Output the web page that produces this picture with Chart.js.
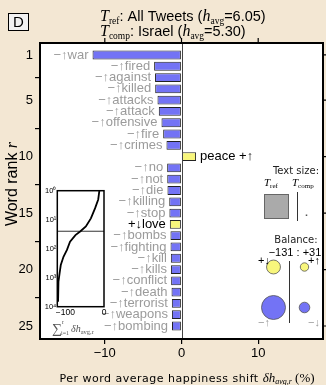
<!DOCTYPE html>
<html>
<head>
<meta charset="utf-8">
<script src="https://cdn.jsdelivr.net/npm/chart.js@4.4.0/dist/chart.umd.min.js"></script>
<style>
  html, body { margin: 0; padding: 0; background: #f3e7d3; }
  #wrap { position: relative; width: 326px; height: 385px; }
  #main { position: absolute; left: 0; top: 0; }
  #insetBox { position: absolute; left: 38px; top: 183px; width: 72px; height: 155px; }
</style>
</head>
<body>
<div id="wrap">
  <canvas id="main" width="326" height="385"></canvas>
  <div id="insetBox"><canvas id="inset" width="72" height="155"></canvas></div>
</div>
<script>
// word shift data
const words = ["war", "fired", "against", "killed", "attacks", "attack", "offensive", "fire", "crimes", "peace",
  "no", "not", "die", "killing", "stop", "love", "bombs", "fighting", "kill", "kills",
  "conflict", "death", "terrorist", "weapons", "bombing"];
const ranks = [1, 2, 3, 4, 5, 6, 7, 8, 9, 10, 11, 12, 13, 14, 15, 16, 17, 18, 19, 20, 21, 22, 23, 24, 25];
const shifts = [-11.6, -3.57, -3.45, -3.43, -3.13, -2.96, -2.61, -2.39, -1.96, 1.9,
  -1.87, -1.86, -1.83, -1.6, -1.58, -1.52, -1.44, -1.43, -1.39, -1.38,
  -1.35, -1.3, -1.26, -1.25, -1.24];
// "-up" = negative word used more, "+up" = positive word used more, "+down" = positive word used less
const kinds = ["-up", "-up", "-up", "-up", "-up", "-up", "-up", "-up", "-up", "+up",
  "-up", "-up", "-up", "-up", "-up", "+down", "-up", "-up", "-up", "-up",
  "-up", "-up", "-up", "-up", "-up"];
const yTicks = [1, 5, 10, 15, 20, 25];
const xTicks = [-10, 0, 10];

// inset: cumulative shift vs rank
const cumRanks = [1, 2, 4, 9, 17, 25, 34, 57, 110, 190, 365, 700, 1370, 4000, 6750];
const cumShift = [-12, -15, -23, -34, -47, -61, -74, -88, -96, -105, -112, -115, -118, -119, -119];
const insetYTicks = [1, 10, 100, 1000, 10000];
const insetXTicks = [-100, 0];

// summary boxes
const textSizes = [1, 0.004];          // T_ref, T_comp
const balanceTotals = [-131, 31];
const balanceParts = [-33, 12, -98, 19]; // +down, +up, -up, -down

const BLUE = "#7373f5";
const YELLOW = "#f8f67c";
const GREY = "#9b9b9b";

function rich(ctx, x, y, segs, align) {
  let w = 0;
  segs.forEach(s => { ctx.font = s.f; ctx.letterSpacing = s.ls || "0px"; w += ctx.measureText(s.t).width; });
  let cx = align === "center" ? x - w / 2 : x;
  segs.forEach(s => {
    ctx.font = s.f;
    ctx.letterSpacing = s.ls || "0px";
    ctx.fillStyle = s.c || "#000";
    ctx.fillText(s.t, cx, y + (s.dy || 0));
    cx += ctx.measureText(s.t).width;
  });
  ctx.letterSpacing = "0px";
}

const SANS = "'Liberation Sans', Arial, sans-serif";
const SERIF_I = "italic 16px 'Liberation Serif', serif";

const decor = {
  id: "decor",
  beforeDraw(chart) {
    const { ctx, chartArea: a } = chart;
    ctx.save();
    ctx.fillStyle = "#fff";
    ctx.fillRect(a.left, a.top, a.right - a.left, a.bottom - a.top);
    ctx.restore();
  },
  afterDatasetsDraw(chart) {
    const { ctx, chartArea: a } = chart;
    const xs = chart.scales.x;
    ctx.save();
    // zero line
    ctx.strokeStyle = "#444";
    ctx.lineWidth = 1;
    ctx.beginPath();
    ctx.moveTo(Math.round(xs.getPixelForValue(0)) + 0.5, a.top);
    ctx.lineTo(Math.round(xs.getPixelForValue(0)) + 0.5, a.bottom);
    ctx.stroke();
    // word labels
    const meta = chart.getDatasetMeta(0);
    ctx.textBaseline = "middle";
    ctx.font = "13px " + SANS;
    meta.data.forEach((bar, i) => {
      const k = kinds[i];
      const left = Math.min(bar.x, bar.base), right = Math.max(bar.x, bar.base);
      if (k === "+up") {
        ctx.fillStyle = "#000";
        ctx.textAlign = "left";
        ctx.fillText(words[i] + " +\u2191", right + 4, bar.y);
      } else if (k === "+down") {
        ctx.fillStyle = "#000";
        ctx.textAlign = "right";
        ctx.fillText("+\u2193" + words[i], left - 4, bar.y);
      } else {
        ctx.fillStyle = GREY;
        ctx.textAlign = "right";
        ctx.fillText("\u2212\u2191" + words[i], left - 4, bar.y);
      }
    });
    ctx.restore();
  },
  afterDraw(chart) {
    const { ctx, chartArea: a } = chart;
    const xs = chart.scales.x, ys = chart.scales.y;
    ctx.save();
    // frame
    ctx.strokeStyle = "#000";
    ctx.lineWidth = 2;
    ctx.strokeRect(a.left, a.top, a.right - a.left, a.bottom - a.top);
    // mirrored ticks on top and right
    ctx.lineWidth = 1.2;
    ctx.beginPath();
    xTicks.forEach(v => {
      const px = xs.getPixelForValue(v);
      ctx.moveTo(px, a.top); ctx.lineTo(px, a.top - 5);
    });
    yTicks.forEach(v => {
      const py = ys.getPixelForValue(v);
      ctx.moveTo(a.right, py); ctx.lineTo(a.right + 4, py);
    });
    ctx.stroke();

    // panel letter
    ctx.fillStyle = "#f2f2f2";
    ctx.fillRect(8.5, 13.5, 20, 17);
    ctx.strokeStyle = "#000";
    ctx.lineWidth = 1;
    ctx.strokeRect(8.5, 13.5, 20, 17);
    ctx.fillStyle = "#000";
    ctx.font = "15px " + SANS;
    ctx.textAlign = "center";
    ctx.textBaseline = "middle";
    ctx.fillText("D", 18.5, 22.5);

    // title
    ctx.textAlign = "left";
    ctx.textBaseline = "alphabetic";
    const tf = "14.5px " + SANS;
    const sub = "9.5px 'Liberation Serif', serif";
    rich(ctx, 100, 20.5, [
      { t: "T", f: SERIF_I }, { t: "ref", f: sub, dy: 3 }, { t: ": All Tweets (", f: tf },
      { t: "h", f: SERIF_I }, { t: "avg", f: sub, dy: 3 }, { t: "=6.05)", f: tf }
    ]);
    rich(ctx, 100, 36, [
      { t: "T", f: SERIF_I }, { t: "comp", f: sub, dy: 3 }, { t: ": Israel (", f: tf },
      { t: "h", f: SERIF_I }, { t: "avg", f: sub, dy: 3 }, { t: "=5.30)", f: tf }
    ]);

    // axis titles
    ctx.save();
    ctx.translate(17, 184);
    ctx.rotate(-Math.PI / 2);
    rich(ctx, 0, 0, [{ t: "Word rank ", f: "16px " + SANS }, { t: "r", f: "italic 16px 'Liberation Serif', serif" }], "center");
    ctx.restore();
    rich(ctx, 187, 382, [
      { t: "Per word average happiness shift ", f: "11px 'DejaVu Sans', sans-serif", ls: "0.5px" },
      { t: "\u03b4h", f: "italic 13px 'Liberation Serif', serif" },
      { t: "avg,r", f: "italic 8px 'Liberation Serif', serif", dy: 2 },
      { t: " (%)", f: "13px 'Liberation Serif', serif" }
    ], "center");

    // text size box
    ctx.fillStyle = "#222";
    ctx.textAlign = "center";
    ctx.font = "10px 'DejaVu Sans', sans-serif";
    ctx.fillText("Text size:", 296, 174);
    ctx.textAlign = "left";
    rich(ctx, 264, 186, [{ t: "T", f: "italic 11px 'Liberation Serif', serif" }, { t: "ref", f: "7px 'Liberation Serif', serif", dy: 2 }]);
    rich(ctx, 292, 186, [{ t: "T", f: "italic 11px 'Liberation Serif', serif" }, { t: "comp", f: "7px 'Liberation Serif', serif", dy: 2 }]);
    const maxSize = Math.max(...textSizes);
    const sides = textSizes.map(s => 24 * Math.sqrt(s / maxSize));
    ctx.fillStyle = "#aaa";
    ctx.strokeStyle = "#666";
    ctx.lineWidth = 1;
    ctx.fillRect(276.5 - sides[0] / 2, 218.5 - sides[0], sides[0], sides[0]);
    ctx.strokeRect(276.5 - sides[0] / 2, 218.5 - sides[0], sides[0], sides[0]);
    ctx.fillStyle = "#555";
    const d = Math.max(sides[1], 1.2);
    ctx.fillRect(306.5 - d / 2, 216 - d, d, d);
    ctx.strokeStyle = "#333";
    ctx.beginPath();
    ctx.moveTo(297.5, 192); ctx.lineTo(297.5, 221);
    ctx.stroke();

    // balance
    ctx.fillStyle = "#222";
    ctx.textAlign = "center";
    ctx.font = "10px 'DejaVu Sans', sans-serif";
    ctx.fillText("Balance:", 296, 243);
    ctx.fillStyle = "#000";
    ctx.font = "11px " + SANS;
    ctx.fillText("\u2212" + Math.abs(balanceTotals[0]) + " : +" + balanceTotals[1], 295, 256);
    const maxPart = Math.max(...balanceParts.map(Math.abs));
    const rad = balanceParts.map(v => 12 * Math.sqrt(Math.abs(v) / maxPart));
    const centers = [[273.5, 267], [304.5, 267], [273.5, 307.5], [304.5, 307.5]];
    const fills = [YELLOW, YELLOW, BLUE, BLUE];
    centers.forEach((c, i) => {
      ctx.beginPath();
      ctx.arc(c[0], c[1], rad[i], 0, Math.PI * 2);
      ctx.fillStyle = fills[i];
      ctx.fill();
      ctx.strokeStyle = "#555";
      ctx.lineWidth = 0.8;
      ctx.stroke();
    });
    ctx.strokeStyle = "#333";
    ctx.lineWidth = 1;
    ctx.beginPath();
    ctx.moveTo(289.5, 261); ctx.lineTo(289.5, 323);
    ctx.stroke();
    ctx.font = "11px " + SANS;
    ctx.textAlign = "center";
    ctx.fillStyle = "#000";
    ctx.fillText("+\u2193", 264, 264);
    ctx.fillText("+\u2191", 314, 264);
    ctx.fillStyle = GREY;
    ctx.fillText("\u2212\u2191", 264, 326);
    ctx.fillText("\u2212\u2193", 314, 326);
    ctx.restore();
  }
};

new Chart(document.getElementById("main"), {
  type: "bar",
  data: {
    datasets: [{
      data: words.map((w, i) => ({ x: shifts[i], y: ranks[i] })),
      backgroundColor: kinds.map(k => k === "-up" ? BLUE : YELLOW),
      borderColor: "#222",
      borderWidth: 1,
      borderSkipped: false,
      barPercentage: 0.78,
      categoryPercentage: 1
    }]
  },
  options: {
    indexAxis: "y",
    responsive: false,
    animation: false,
    layout: { padding: { left: 0, top: 43, right: 3, bottom: 0 } },
    plugins: { legend: { display: false }, tooltip: { enabled: false } },
    scales: {
      x: {
        type: "linear",
        offset: false,
        min: -18.45,
        max: 18.45,
        afterBuildTicks: s => { s.ticks = xTicks.map(v => ({ value: v })); },
        afterFit: s => { s.height = 46; },
        ticks: {
          color: "#000",
          font: { family: "Liberation Sans", size: 13 },
          padding: 2,
          callback: v => String(v).replace("-", "\u2212")
        },
        grid: { drawOnChartArea: false, tickLength: 5, color: "#000", lineWidth: 1.2 },
        border: { display: false }
      },
      y: {
        type: "linear",
        offset: false,
        reverse: true,
        min: -0.06,
        max: 26.15,
        afterBuildTicks: s => { s.ticks = yTicks.map(v => ({ value: v })); },
        afterFit: s => { s.width = 40; },
        ticks: { color: "#000", font: { family: "Liberation Sans", size: 13 }, padding: 2 },
        grid: { drawOnChartArea: false, tickLength: 5, color: "#000", lineWidth: 1.2 },
        border: { display: false }
      }
    }
  },
  plugins: [decor]
});

// inset chart
const sup = ["\u2070", "\u00b9", "\u00b2", "\u00b3", "\u2074"];
const insetDecor = {
  id: "insetDecor",
  afterDraw(chart) {
    const { ctx, chartArea: a } = chart;
    ctx.save();
    ctx.strokeStyle = "#000";
    ctx.lineWidth = 1.5;
    ctx.strokeRect(a.left, a.top, a.right - a.left, a.bottom - a.top);
    ctx.fillStyle = "#555";
    ctx.textAlign = "left";
    ctx.textBaseline = "alphabetic";
    ctx.font = "14px 'Liberation Serif', serif";
    ctx.fillText("\u2211", 14, 150);
    ctx.font = "6px 'Liberation Serif', serif";
    ctx.fillText("r", 24, 141);
    ctx.fillText("i=1", 23, 152);
    rich(ctx, 33, 149, [
      { t: "\u03b4h", f: "italic 10px 'Liberation Serif', serif", c: "#555" },
      { t: "avg,r", f: "6.5px 'Liberation Serif', serif", dy: 2, c: "#555" }
    ]);
    ctx.restore();
  }
};

new Chart(document.getElementById("inset"), {
  type: "line",
  data: {
    datasets: [
      {
        data: cumRanks.map((r, i) => ({ x: cumShift[i], y: r })),
        borderColor: "#000",
        borderWidth: 1.8,
        pointRadius: 0,
        tension: 0
      },
      {
        data: [{ x: -121, y: ranks.length }, { x: 0, y: ranks.length }],
        borderColor: "#333",
        borderWidth: 1,
        pointRadius: 0
      }
    ]
  },
  options: {
    responsive: false,
    animation: false,
    layout: { padding: { left: 0, top: 7.7, right: 6, bottom: 0 } },
    plugins: { legend: { display: false }, tooltip: { enabled: false } },
    scales: {
      x: {
        type: "linear",
        min: -121,
        max: 0,
        afterBuildTicks: s => { s.ticks = insetXTicks.map(v => ({ value: v })); },
        afterFit: s => { s.height = 31.3; },
        ticks: {
          color: "#000",
          font: { family: "Liberation Sans", size: 8.5 },
          padding: 1,
          maxRotation: 0,
          callback: v => String(v).replace("-", "\u2212")
        },
        grid: { display: false, drawTicks: false },
        border: { display: false }
      },
      y: {
        type: "logarithmic",
        reverse: true,
        min: 1,
        max: 10000,
        afterBuildTicks: s => { s.ticks = insetYTicks.map(v => ({ value: v })); },
        afterFit: s => { s.width = 19.3; },
        ticks: {
          color: "#000",
          font: { family: "Liberation Sans", size: 7.5 },
          padding: 1,
          callback: v => "10" + sup[Math.round(Math.log10(v))]
        },
        grid: { display: false, drawTicks: false },
        border: { display: false }
      }
    }
  },
  plugins: [insetDecor]
});
</script>
</body>
</html>
